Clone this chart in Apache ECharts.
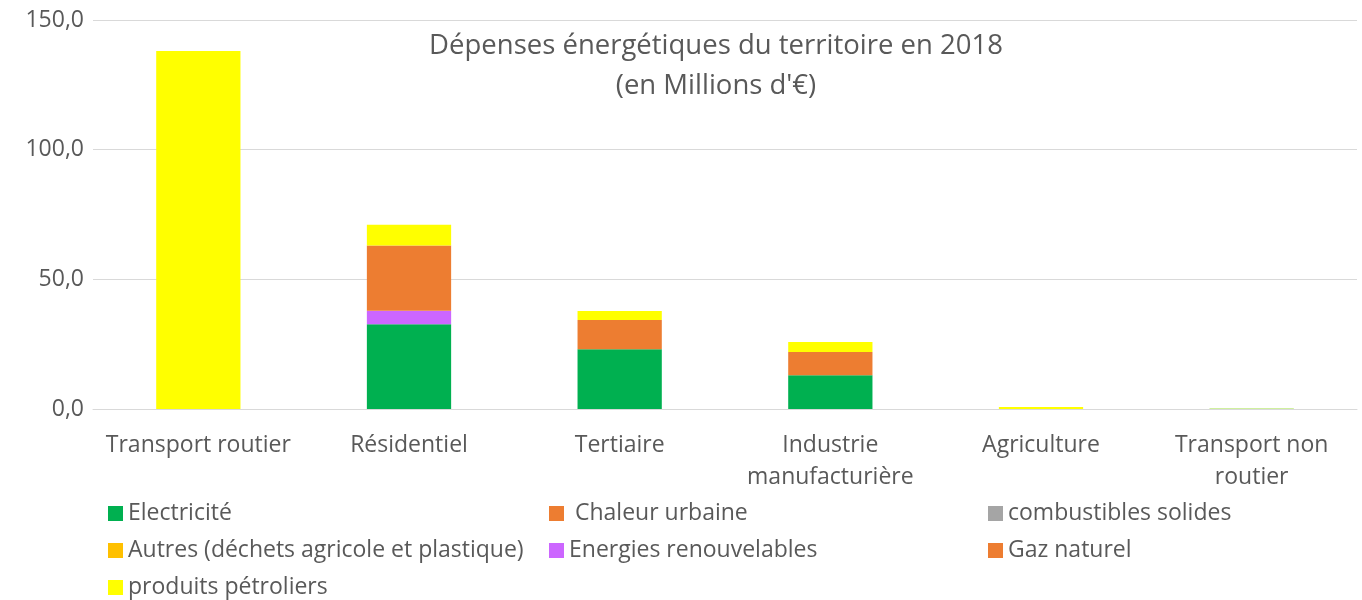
<!DOCTYPE html>
<html>
<head>
<meta charset="utf-8">
<script src="https://cdn.jsdelivr.net/npm/echarts@6/dist/echarts.min.js"></script>
<style>
  html, body { margin: 0; padding: 0; background: #fff; }
  #chart { width: 1362px; height: 600px; }
</style>
</head>
<body>
<div id="chart"></div>
<script>
// secteurs
const categories = ['Transport routier', 'Résidentiel', 'Tertiaire', 'Industrie\nmanufacturière', 'Agriculture', 'Transport non\nroutier']
// valeurs par énergie (M€)
const electricite = [0, 32.7, 23.0, 13.0, 0, 0.1]
const chaleurUrbaine = [0, 0, 0, 0, 0, 0]
const combustiblesSolides = [0, 0, 0, 0, 0, 0]
const autres = [0, 0, 0, 0, 0, 0]
const enr = [0, 5.2, 0, 0, 0, 0]
const gazNaturel = [0, 25.1, 11.3, 9.0, 0, 0]
const petroliers = [138.0, 8.0, 3.5, 3.8, 0.8, 0.1]

const textColor = '#595959'
const font = 'Open Sans'

const mk = (name, data, color) => ({
  name: name,
  type: 'bar',
  stack: 'total',
  barWidth: '40%',
  data: data,
  itemStyle: { color: color },
})

const chart = echarts.init(document.getElementById('chart'))
const legendBase = {
  orient: 'vertical',
  top: 502,
  padding: 0,
  itemGap: 14,
  itemWidth: 15,
  itemHeight: 15,
  icon: 'rect',
  textStyle: { color: textColor, fontSize: 23, lineHeight: 23, fontFamily: font },
}
chart.setOption({
  animation: false,
  title: {
    text: "Dépenses énergétiques du territoire en 2018\n(en Millions d'€)",
    left: 711,
    top: 21,
    textAlign: 'center',
    textStyle: { color: textColor, fontSize: 27.5, fontWeight: 'normal', fontFamily: font, lineHeight: 40 },
  },
  legend: [
    Object.assign({}, legendBase, { left: 108, data: ['Electricité', 'Autres (déchets agricole et plastique)', 'produits pétroliers'] }),
    Object.assign({}, legendBase, { left: 549, data: [' Chaleur urbaine', 'Energies renouvelables'] }),
    Object.assign({}, legendBase, { left: 988, data: ['combustibles solides', 'Gaz naturel'] }),
  ],
  grid: { left: 93, right: 5, top: 20, bottom: 191 },
  xAxis: {
    type: 'category',
    data: categories,
    axisLine: { lineStyle: { color: '#d9d9d9', width: 1 } },
    axisTick: { show: false },
    axisLabel: { color: textColor, fontSize: 23, fontFamily: font, lineHeight: 32, margin: 20, interval: 0 },
  },
  yAxis: {
    type: 'value',
    min: 0,
    max: 150,
    interval: 50,
    axisLine: { show: false },
    axisTick: { show: false },
    splitLine: { lineStyle: { color: '#d9d9d9', width: 1 } },
    axisLabel: {
      color: textColor, fontSize: 23, fontFamily: font, margin: 9,
      formatter: v => v.toFixed(1).replace('.', ','),
    },
  },
  series: [
    mk('Electricité', electricite, '#00B050'),
    mk(' Chaleur urbaine', chaleurUrbaine, '#ED7D31'),
    mk('combustibles solides', combustiblesSolides, '#A5A5A5'),
    mk('Autres (déchets agricole et plastique)', autres, '#FFC000'),
    mk('Energies renouvelables', enr, '#CC66FF'),
    mk('Gaz naturel', gazNaturel, '#ED7D31'),
    mk('produits pétroliers', petroliers, '#FFFF00'),
  ],
})
</script>
</body>
</html>
